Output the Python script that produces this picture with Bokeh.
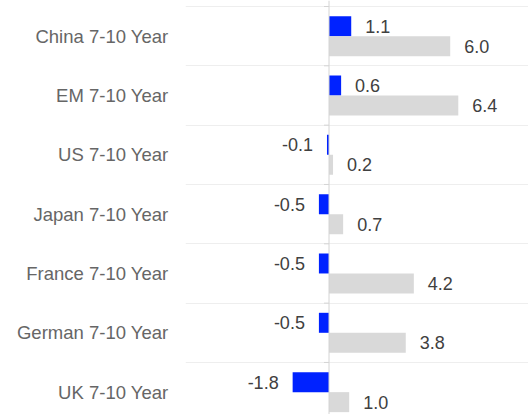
import numpy as np
from bokeh.plotting import figure
from bokeh.models import ColumnDataSource, Range1d, FixedTicker, Span, LabelSet
from bokeh.core.properties import value
from bokeh.embed import file_html
from bokeh.resources import INLINE

categories = ["China 7-10 Year", "EM 7-10 Year", "US 7-10 Year", "Japan 7-10 Year",
              "France 7-10 Year", "German 7-10 Year", "UK 7-10 Year"]
series_a = [1.1, 0.6, -0.1, -0.5, -0.5, -0.5, -1.8]
series_b = [6.0, 6.4, 0.2, 0.7, 4.2, 3.8, 1.0]

BLUE = "#0022ff"
GREY = "#d9d9d9"
FONT = "Liberation Sans"

n = len(categories)
yc = [n - 1 - i for i in range(n)]
bar_h = 0.337

p = figure(width=528, height=414, output_backend="svg", toolbar_location=None,
           x_range=Range1d(-7.104, 9.876), y_range=Range1d(-0.377, 6.601),
           x_axis_location=None, min_border_left=185, min_border_right=0,
           min_border_top=0, min_border_bottom=0)
p.outline_line_color = None
p.xgrid.visible = False
boundaries = [c + 0.5 for c in yc] + [-0.5]
p.ygrid.ticker = FixedTicker(ticks=boundaries)
p.ygrid.grid_line_color = "#eeeeee"

ya = [c + bar_h / 2 for c in yc]
yb = [c - bar_h / 2 for c in yc]
p.hbar(y=ya, left=0, right=series_a, height=bar_h, fill_color=BLUE, line_color=None)
p.hbar(y=yb, left=0, right=series_b, height=bar_h, fill_color=GREY, line_color=None)

p.add_layout(Span(location=0, dimension="height", line_color="#d4d4d4", line_width=1))
p.ray(x=0, y=boundaries, length=5, angle=np.pi, length_units="screen",
      line_color="#d4d4d4", line_width=1)

vals = series_a + series_b
src = ColumnDataSource(dict(
    x=vals,
    y=ya + yb,
    text=["%.1f" % v for v in vals],
    align=["left" if v >= 0 else "right" for v in vals],
    xoff=[14 if v >= 0 else -14 for v in vals],
))
p.add_layout(LabelSet(x="x", y="y", text="text", source=src, text_align="align",
                      x_offset="xoff", text_baseline="middle", text_font=value(FONT),
                      text_font_size="18px", text_color="#404040"))

ax = p.yaxis[0]
ax.ticker = FixedTicker(ticks=yc)
ax.major_label_overrides = {c: name for c, name in zip(yc, categories)}
ax.axis_line_color = None
ax.major_tick_line_color = None
ax.minor_tick_line_color = None
ax.major_tick_out = 0
ax.major_tick_in = 0
ax.major_label_standoff = 17
ax.major_label_text_font = FONT
ax.major_label_text_font_size = "18.5px"
ax.major_label_text_color = "#666666"

open("out.html", "w").write(file_html(p, INLINE))
